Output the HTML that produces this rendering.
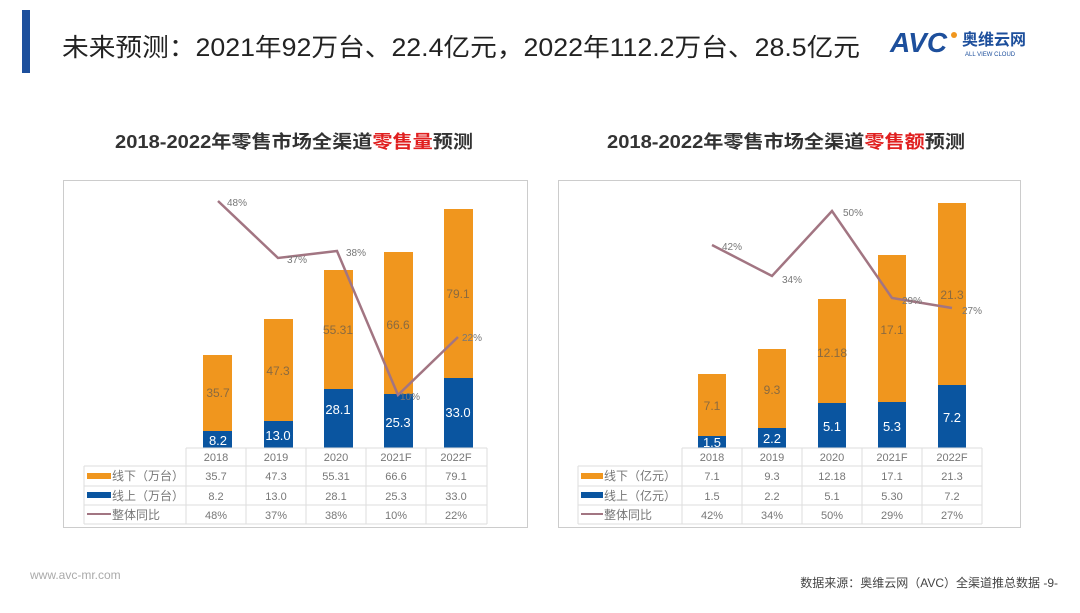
<!DOCTYPE html>
<html><head><meta charset="utf-8"><style>
html,body{margin:0;padding:0;background:#fff;}
svg text{font-family:"Liberation Sans","Noto Sans CJK SC",sans-serif;}
</style></head><body>
<svg width="1080" height="608" viewBox="0 0 1080 608" xmlns="http://www.w3.org/2000/svg">
<rect width="1080" height="608" fill="#fff"/>
<rect x="22" y="10" width="8" height="63" fill="#1d4f9c"/>
<text x="62" y="56" font-size="25" fill="#222" textLength="798" lengthAdjust="spacingAndGlyphs">未来预测：2021年92万台、22.4亿元，2022年112.2万台、28.5亿元</text>
<text x="890" y="52" font-size="28" font-weight="bold" fill="#1d4f9c" font-style="italic">AVC</text>
<circle cx="954" cy="35" r="3" fill="#f0961e"/>
<text x="962" y="45" font-size="16" font-weight="bold" fill="#1d4f9c">奥维云网</text>
<text x="965" y="56" font-size="6" fill="#1d4f9c">ALL VIEW CLOUD</text>

<text x="115" y="148" font-size="18" font-weight="bold" fill="#333" textLength="358" lengthAdjust="spacingAndGlyphs">2018-2022年零售市场全渠道<tspan fill="#e02020">零售量</tspan>预测</text>
<text x="607" y="148" font-size="18" font-weight="bold" fill="#333" textLength="358" lengthAdjust="spacingAndGlyphs">2018-2022年零售市场全渠道<tspan fill="#e02020">零售额</tspan>预测</text>

<!-- Left chart -->
<rect x="63.5" y="180.5" width="464" height="347" fill="none" stroke="#ccc"/>
<g fill="#f0961e">
<rect x="203" y="355" width="29" height="76"/><rect x="264" y="319" width="29" height="102"/>
<rect x="324" y="270" width="29" height="119"/><rect x="384" y="252" width="29" height="142"/>
<rect x="444" y="209" width="29" height="169"/></g>
<g fill="#0a55a0">
<rect x="203" y="431" width="29" height="17"/><rect x="264" y="421" width="29" height="27"/>
<rect x="324" y="389" width="29" height="59"/><rect x="384" y="394" width="29" height="54"/>
<rect x="444" y="378" width="29" height="70"/></g>
<g font-size="12" fill="#8a6a40" text-anchor="middle">
<text x="218" y="397">35.7</text><text x="278" y="375">47.3</text><text x="338" y="334">55.31</text>
<text x="398" y="329">66.6</text><text x="458" y="298">79.1</text></g>
<g font-size="13" fill="#fff" text-anchor="middle">
<text x="218" y="445">8.2</text><text x="278" y="440">13.0</text><text x="338" y="414">28.1</text>
<text x="398" y="427">25.3</text><text x="458" y="417">33.0</text></g>
<polyline points="218,201 278,258 337,251 398,395 458,337" fill="none" stroke="#a27582" stroke-width="2.5"/>
<g font-size="10" fill="#777"><text x="227" y="206">48%</text><text x="287" y="263">37%</text>
<text x="346" y="256">38%</text><text x="400" y="400">10%</text><text x="462" y="341">22%</text></g>
<g stroke="#ddd" fill="none">
<line x1="186" y1="448" x2="487" y2="448"/><line x1="84" y1="466" x2="487" y2="466"/>
<line x1="84" y1="486" x2="487" y2="486"/><line x1="84" y1="505" x2="487" y2="505"/>
<line x1="84" y1="524" x2="487" y2="524"/>
<line x1="84" y1="466" x2="84" y2="524"/>
<line x1="186" y1="448" x2="186" y2="524"/><line x1="246" y1="448" x2="246" y2="524"/>
<line x1="306" y1="448" x2="306" y2="524"/><line x1="366" y1="448" x2="366" y2="524"/>
<line x1="426" y1="448" x2="426" y2="524"/><line x1="487" y1="448" x2="487" y2="524"/></g>
<rect x="87" y="473" width="24" height="6" fill="#f0961e"/>
<rect x="87" y="492" width="24" height="6" fill="#0a55a0"/>
<line x1="87" y1="514" x2="111" y2="514" stroke="#a27582" stroke-width="2"/>
<g font-size="12" fill="#777"><text x="112" y="480">线下（万台）</text><text x="112" y="500">线上（万台）</text><text x="112" y="519">整体同比</text></g>
<g font-size="11" fill="#777" text-anchor="middle">
<text x="216" y="461">2018</text><text x="276" y="461">2019</text><text x="336" y="461">2020</text><text x="396" y="461">2021F</text><text x="456" y="461">2022F</text>
<text x="216" y="480">35.7</text><text x="276" y="480">47.3</text><text x="336" y="480">55.31</text><text x="396" y="480">66.6</text><text x="456" y="480">79.1</text>
<text x="216" y="500">8.2</text><text x="276" y="500">13.0</text><text x="336" y="500">28.1</text><text x="396" y="500">25.3</text><text x="456" y="500">33.0</text>
<text x="216" y="519">48%</text><text x="276" y="519">37%</text><text x="336" y="519">38%</text><text x="396" y="519">10%</text><text x="456" y="519">22%</text></g>

<!-- Right chart -->
<rect x="558.5" y="180.5" width="462" height="347" fill="none" stroke="#ccc"/>
<g fill="#f0961e">
<rect x="698" y="374" width="28" height="62"/><rect x="758" y="349" width="28" height="79"/>
<rect x="818" y="299" width="28" height="104"/><rect x="878" y="255" width="28" height="147"/>
<rect x="938" y="203" width="28" height="182"/></g>
<g fill="#0a55a0">
<rect x="698" y="436" width="28" height="12"/><rect x="758" y="428" width="28" height="20"/>
<rect x="818" y="403" width="28" height="45"/><rect x="878" y="402" width="28" height="46"/>
<rect x="938" y="385" width="28" height="63"/></g>
<g font-size="12" fill="#8a6a40" text-anchor="middle">
<text x="712" y="410">7.1</text><text x="772" y="394">9.3</text><text x="832" y="357">12.18</text>
<text x="892" y="334">17.1</text><text x="952" y="299">21.3</text></g>
<g font-size="13" fill="#fff" text-anchor="middle">
<text x="712" y="447">1.5</text><text x="772" y="443">2.2</text><text x="832" y="431">5.1</text>
<text x="892" y="431">5.3</text><text x="952" y="422">7.2</text></g>
<polyline points="712,245 772,276 832,211 892,298 952,308" fill="none" stroke="#a27582" stroke-width="2.5"/>
<g font-size="10" fill="#777"><text x="722" y="250">42%</text><text x="782" y="283">34%</text>
<text x="843" y="216">50%</text><text x="902" y="304">29%</text><text x="962" y="314">27%</text></g>
<g stroke="#ddd" fill="none">
<line x1="682" y1="448" x2="982" y2="448"/><line x1="578" y1="466" x2="982" y2="466"/>
<line x1="578" y1="486" x2="982" y2="486"/><line x1="578" y1="505" x2="982" y2="505"/>
<line x1="578" y1="524" x2="982" y2="524"/>
<line x1="578" y1="466" x2="578" y2="524"/>
<line x1="682" y1="448" x2="682" y2="524"/><line x1="742" y1="448" x2="742" y2="524"/>
<line x1="802" y1="448" x2="802" y2="524"/><line x1="862" y1="448" x2="862" y2="524"/>
<line x1="922" y1="448" x2="922" y2="524"/><line x1="982" y1="448" x2="982" y2="524"/></g>
<rect x="581" y="473" width="22" height="6" fill="#f0961e"/>
<rect x="581" y="492" width="22" height="6" fill="#0a55a0"/>
<line x1="581" y1="514" x2="603" y2="514" stroke="#a27582" stroke-width="2"/>
<g font-size="12" fill="#777"><text x="604" y="480">线下（亿元）</text><text x="604" y="500">线上（亿元）</text><text x="604" y="519">整体同比</text></g>
<g font-size="11" fill="#777" text-anchor="middle">
<text x="712" y="461">2018</text><text x="772" y="461">2019</text><text x="832" y="461">2020</text><text x="892" y="461">2021F</text><text x="952" y="461">2022F</text>
<text x="712" y="480">7.1</text><text x="772" y="480">9.3</text><text x="832" y="480">12.18</text><text x="892" y="480">17.1</text><text x="952" y="480">21.3</text>
<text x="712" y="500">1.5</text><text x="772" y="500">2.2</text><text x="832" y="500">5.1</text><text x="892" y="500">5.30</text><text x="952" y="500">7.2</text>
<text x="712" y="519">42%</text><text x="772" y="519">34%</text><text x="832" y="519">50%</text><text x="892" y="519">29%</text><text x="952" y="519">27%</text></g>

<text x="30" y="579" font-size="12" fill="#aaa">www.avc-mr.com</text>
<text x="1058" y="587" font-size="12" fill="#444" text-anchor="end">数据来源：奥维云网（AVC）全渠道推总数据  -9-</text>
</svg>
</body></html>
